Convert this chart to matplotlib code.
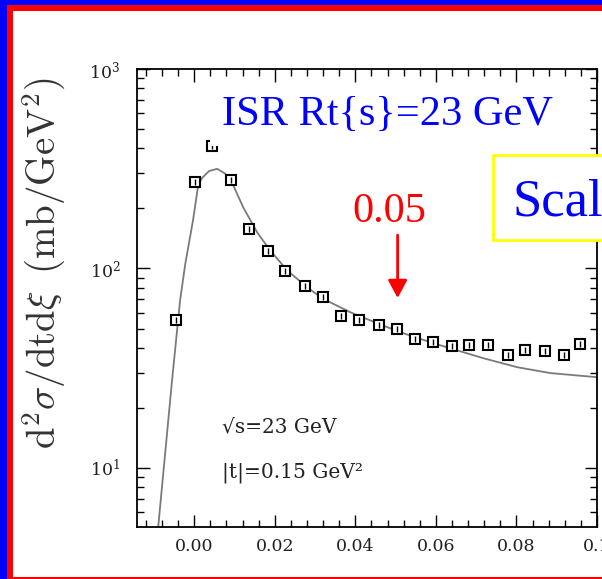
import numpy as np
import matplotlib as mpl
mpl.use('agg')
import matplotlib.pyplot as plt
from matplotlib.patches import Rectangle

## data points (xi, d2sigma/dtdxi)
xi_data = [-0.0045, 0.0002, 0.0045, 0.0092, 0.0137, 0.0184, 0.0226, 0.0276,
           0.0320, 0.0365, 0.0410, 0.0460, 0.0504, 0.0549, 0.0594, 0.0639,
           0.0683, 0.0730, 0.0778, 0.0822, 0.0870, 0.0917, 0.0959]
sig_data = [55, 272, 413, 279, 158, 123, 97, 82,
            71.6, 57.5, 55, 51.9, 49.5, 44.2, 42.7, 40.7,
            41.2, 41.2, 36.7, 38.9, 38.5, 36.7, 41.7]

## model curve
xi_fit = [-0.0097, -0.0055, -0.0035, -0.0022, -0.0003, 0.0010, 0.0020, 0.0037,
          0.0057, 0.0077, 0.0094, 0.0122, 0.0157, 0.0189, 0.0231, 0.0281,
          0.0318, 0.0388, 0.0455, 0.0512, 0.0594, 0.0718, 0.0802, 0.0884, 0.1001]
sig_fit = [3.47, 27.5, 69.2, 106, 174, 262, 285, 308,
           316, 299, 269, 202, 151, 123, 97.7, 80.4,
           70.8, 60.3, 53.1, 47.9, 42.2, 35.5, 32.0, 29.9, 28.5]

xticks = [0.00, 0.02, 0.04, 0.06, 0.08, 0.10]
xticklabels = ['0.00', '0.02', '0.04', '0.06', '0.08', '0.1']

W, H = 602, 579
fig = plt.figure(figsize=(W / 100, H / 100), dpi=100)
fig.patch.set_facecolor('blue')

## slide frame: red border inside blue, white inside
fig.patches.append(Rectangle((7 / W, 0), 1.2, 1 - 5 / H, transform=fig.transFigure,
                             facecolor='red', edgecolor='none', zorder=-3))
fig.patches.append(Rectangle((13 / W, 2 / H), 1.2, 1 - 13 / H, transform=fig.transFigure,
                             facecolor='white', edgecolor='none', zorder=-2))

ax = fig.add_axes([137 / W, 1 - 527 / H, 460 / W, 458 / H])
ax.set_yscale('log')
ax.set_xlim(-0.0142, 0.1)
ax.set_ylim(5.06, 1000)

ax.plot(xi_fit, sig_fit, color='#7a7a7a', lw=1.3)
ax.plot(xi_data, sig_data, 's', ms=6.5, mfc='white', mec='black', mew=1.5)
ax.plot(xi_data, sig_data, '|', ms=4.5, color='black', mew=1.0)

ax.set_xticks(xticks)
ax.set_xticklabels(xticklabels)
ax.set_xticks(np.arange(-0.012, 0.1001, 0.004), minor=True)

for side in ax.spines.values():
    side.set_linewidth(1.3)
ax.tick_params(which='both', direction='in', top=True, right=True, width=1.0)
ax.tick_params(which='major', length=9)
ax.tick_params(which='minor', length=5)
ax.tick_params(axis='x', pad=8)
ax.tick_params(axis='y', pad=12)
for lab in ax.get_xticklabels() + ax.get_yticklabels():
    lab.set_family('DejaVu Serif')
    lab.set_fontsize(12.5)
    lab.set_color('#222222')

ax.set_ylabel(r'$\mathrm{d}^2\sigma/\mathrm{dtd}\xi\;\;(\mathrm{mb/GeV}^2)$',
              fontsize=28, math_fontfamily='cm', color='#333333')
ax.yaxis.set_label_coords(-0.15, 0.576)

## in-plot labels
ax.text(0.00697, 9.0 * 1.68, '\u221as=23 GeV', family='DejaVu Serif', fontsize=14.5,
        va='baseline', color='#222222')
ax.text(0.00697, 9.0, '|t|=0.15 GeV\u00b2', family='DejaVu Serif', fontsize=14.5,
        va='baseline', color='#222222')

ax.text(0.00697, 524, 'ISR Rt{s}=23 GeV', family='Liberation Serif', fontsize=30.5,
        color='blue', va='baseline',
        bbox=dict(facecolor='white', edgecolor='none', pad=8.5))

ax.text(0.0393, 171, '0.05', family='Liberation Serif', fontsize=30.5,
        color='red', va='baseline')
ax.annotate('', xy=(0.0505, 71.1), xytext=(0.0505, 147),
            arrowprops=dict(arrowstyle='-|>,head_width=0.29,head_length=0.54',
                            color='red', lw=2, mutation_scale=20,
                            shrinkA=0, shrinkB=0))

## boxed label cut by the slide edge
fig.patches.append(Rectangle((493 / W, 1 - 240 / H), 0.3, 85 / H, transform=fig.transFigure,
                             facecolor='white', edgecolor='#ffff00', lw=2, zorder=5))
fig.text(513 / W, 1 - 216 / H, 'Scal', family='Liberation Serif', fontsize=38,
         color='blue', va='baseline', zorder=6)

fig.savefig('out.png', dpi=100)
